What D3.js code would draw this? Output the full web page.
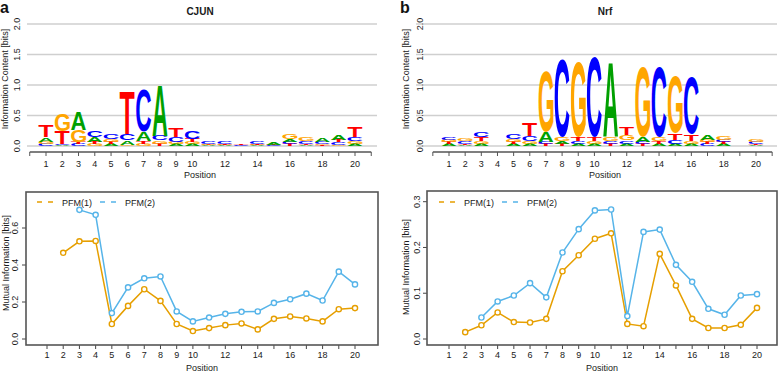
<!DOCTYPE html>
<html>
<head>
<meta charset="utf-8">
<script src="https://cdn.jsdelivr.net/npm/d3@7/dist/d3.min.js"></script>
<style>
  html, body { margin: 0; padding: 0; background: #fff; }
  svg { display: block; font-family: "Liberation Sans", Arial, sans-serif; }
</style>
</head>
<body>
<svg id="chart" width="779" height="372"></svg>
<script>
// Positions and axis labels
const positions = [1,2,3,4,5,6,7,8,9,10,11,12,13,14,15,16,17,18,19,20]
const axisTicks = [0,1,2,3,4,5,6,7,8,9,10,11,12,13,14,15,16,17,18,19,20,21]
const tickLabels = [1,2,3,4,5,6,7,8,9,10,12,14,16,18,20]
const bitTicks = [0, 0.5, 1.0, 1.5, 2.0]

// CJUN logo (bits per base)
const cjunA = [0.07,0.02,0.30,0.08,0.03,0.07,0.15,0.82,0.03,0.03,0.01,0.01,0.00,0.01,0.03,0.05,0.02,0.06,0.09,0.03]
const cjunC = [0.03,0.02,0.03,0.11,0.09,0.10,0.69,0.08,0.08,0.13,0.04,0.04,0.01,0.04,0.01,0.04,0.04,0.03,0.04,0.07]
const cjunG = [0.04,0.28,0.19,0.03,0.05,0.02,0.03,0.05,0.04,0.03,0.02,0.01,0.00,0.01,0.00,0.08,0.06,0.02,0.02,0.05]
const cjunT = [0.19,0.21,0.04,0.04,0.04,0.71,0.05,0.04,0.14,0.06,0.01,0.02,0.02,0.02,0.01,0.03,0.02,0.01,0.04,0.17]

// Nrf logo (bits per base)
const nrfA = [0.03,0.02,0.03,0.001,0.03,0.03,0.16,0.05,0.04,0.03,1.21,0.04,0.08,0.03,0.04,0.04,0.08,0.03,0.003,0.02]
const nrfC = [0.05,0.04,0.09,0.002,0.08,0.08,0.04,1.27,0.04,1.32,0.05,0.05,0.04,1.15,0.06,0.92,0.03,0.04,0.003,0.03]
const nrfG = [0.04,0.04,0.05,0.001,0.05,0.05,0.99,0.06,1.24,0.05,0.07,0.09,1.15,0.07,0.93,0.05,0.04,0.06,0.002,0.04]
const nrfT = [0.03,0.02,0.06,0.001,0.04,0.22,0.03,0.03,0.06,0.06,0.03,0.12,0.03,0.05,0.11,0.11,0.03,0.03,0.002,0.02]

// Mutual information per position
const cjunMI1 = [null,0.466,0.528,0.530,0.081,0.179,0.269,0.206,0.081,0.043,0.059,0.075,0.084,0.052,0.109,0.122,0.111,0.095,0.161,0.167]
const cjunMI2 = [null,null,0.698,0.671,0.140,0.279,0.328,0.338,0.149,0.095,0.116,0.136,0.147,0.149,0.195,0.215,0.245,0.208,0.364,0.295]
const nrfMI1 = [null,0.015,0.030,0.058,0.037,0.036,0.044,0.148,0.183,0.219,0.231,0.033,0.028,0.186,0.117,0.044,0.024,0.024,0.031,0.068]
const nrfMI2 = [null,null,0.047,0.082,0.095,0.122,0.091,0.189,0.240,0.281,0.283,0.050,0.234,0.239,0.162,0.125,0.066,0.053,0.095,0.098]
const cjunMITicks = [0.0, 0.2, 0.4, 0.6]
const nrfMITicks = [0.0, 0.1, 0.2, 0.3]

const BASE_COLORS = { A: "#00a000", C: "#0000ff", G: "#ffa500", T: "#ff0000" }
const PFM_COLORS = ["#e69f00", "#56b4e9"]
const LETTER_FONT = "bold 100px 'Liberation Sans', Arial, sans-serif"
const TEXT = "#1a1a1a"

const svg = d3.select("#chart")

// glyph ink box measured once with canvas
const ctx = document.createElement("canvas").getContext("2d")
ctx.font = LETTER_FONT
const glyphBox = {}
;["A","C","G","T"].forEach(ch => {
  const m = ctx.measureText(ch)
  glyphBox[ch] = {
    left: m.actualBoundingBoxLeft, right: m.actualBoundingBoxRight,
    ascent: m.actualBoundingBoxAscent, descent: m.actualBoundingBoxDescent
  }
})

function drawLetter(g, ch, x0, x1, yTop, yBot) {
  const b = glyphBox[ch]
  const sx = (x1 - x0) / (b.left + b.right)
  const sy = (yBot - yTop) / (b.ascent + b.descent)
  g.append("text")
    .attr("transform", `translate(${x0 + b.left * sx},${yBot - b.descent * sy}) scale(${sx},${sy})`)
    .attr("fill", BASE_COLORS[ch])
    .style("font", LETTER_FONT)
    .text(ch)
}

function logoPanel(opt) {
  const g = svg.append("g")
  const x = d3.scaleLinear().domain([1, 20]).range(opt.xRange)
  const y = d3.scaleLinear().domain([0, 2]).range([146, 24])
  const colW = x(2) - x(1)

  // grid
  g.selectAll("line.grid").data(bitTicks).join("line")
    .attr("x1", opt.gridX[0]).attr("x2", opt.gridX[1])
    .attr("y1", d => y(d)).attr("y2", d => y(d))
    .attr("stroke", "#cfcfcf").attr("stroke-width", 1.6)

  // y tick labels (rotated)
  bitTicks.forEach(v => {
    g.append("text")
      .attr("transform", `translate(${opt.yTickX},${y(v)}) rotate(-90)`)
      .attr("text-anchor", "middle").attr("font-size", 9).attr("fill", TEXT)
      .text(v.toFixed(1))
  })
  g.append("text")
    .attr("transform", `translate(${opt.yTitleX},${y(1) - 6}) rotate(-90)`)
    .attr("text-anchor", "middle").attr("font-size", 9).attr("fill", TEXT)
    .text("Information Content [bits]")

  // letters, smallest at the bottom
  const lg = g.append("g")
  positions.forEach((p, i) => {
    const stack = ["A","C","G","T"].map(ch => ({ ch, h: opt.data[ch][i] }))
      .sort((a, b) => a.h - b.h)
    let acc = 0
    const xa = x(p) - colW * 0.46, xb = x(p) + colW * 0.46
    stack.forEach(s => {
      const yb = y(acc), yt = y(acc + s.h)
      acc += s.h
      if (yb - yt < 0.25) return
      drawLetter(lg, s.ch, xa, xb, yt, yb)
    })
  })

  // x axis
  const ax = g.append("g").attr("transform", "translate(0,152)")
  ax.append("line").attr("x1", x(0)).attr("x2", x(21))
    .attr("stroke", "#555").attr("stroke-width", 1.4)
  ax.selectAll("line.tk").data(axisTicks).join("line")
    .attr("x1", d => x(d)).attr("x2", d => x(d)).attr("y1", 0).attr("y2", 4)
    .attr("stroke", "#555").attr("stroke-width", 1)
  ax.selectAll("text").data(tickLabels).join("text")
    .attr("x", d => x(d)).attr("y", 15)
    .attr("text-anchor", "middle").attr("font-size", 9).attr("fill", TEXT)
    .text(d => d)
  g.append("text").attr("x", opt.titleX).attr("y", 178)
    .attr("text-anchor", "middle").attr("font-size", 9).attr("fill", TEXT)
    .text("Position")

  // title and panel letter
  g.append("text").attr("x", opt.titleX).attr("y", 15)
    .attr("text-anchor", "middle").attr("font-size", 10).attr("font-weight", "bold")
    .attr("fill", TEXT).text(opt.title)
  g.append("text").attr("x", opt.tagX).attr("y", 13)
    .attr("font-size", 16).attr("font-weight", "bold").attr("fill", "#111")
    .text(opt.tag)
}

function miPanel(opt) {
  const g = svg.append("g")
  const x = d3.scaleLinear().domain([1, 20]).range(opt.xRange)
  const y = d3.scaleLinear().domain([0, opt.yMax]).range([339, opt.yMaxPx])
  const [bx0, bx1, by0, by1] = opt.box

  // y ticks
  opt.yTicks.forEach(v => {
    g.append("line").attr("x1", bx0 - 4).attr("x2", bx0).attr("y1", y(v)).attr("y2", y(v))
      .attr("stroke", "#444").attr("stroke-width", 1)
    g.append("text")
      .attr("transform", `translate(${opt.yTickX},${y(v)}) rotate(-90)`)
      .attr("text-anchor", "middle").attr("font-size", 9).attr("fill", TEXT)
      .text(v.toFixed(1))
  })
  g.append("text")
    .attr("transform", `translate(${opt.yTitleX},${opt.yTitleY}) rotate(-90)`)
    .attr("text-anchor", "middle").attr("font-size", 9).attr("fill", TEXT)
    .text("Mutual Information [bits]")

  // x ticks
  g.selectAll("line.xt").data(positions).join("line")
    .attr("x1", d => x(d)).attr("x2", d => x(d)).attr("y1", by1).attr("y2", by1 + 4)
    .attr("stroke", "#444").attr("stroke-width", 1)
  g.selectAll("text.xl").data(tickLabels).join("text")
    .attr("x", d => x(d)).attr("y", 358)
    .attr("text-anchor", "middle").attr("font-size", 9).attr("fill", TEXT)
    .text(d => d)
  g.append("text").attr("x", (bx0 + bx1) / 2).attr("y", 371)
    .attr("text-anchor", "middle").attr("font-size", 9).attr("fill", TEXT)
    .text("Position")

  // series
  const line = d3.line().defined(d => d.v != null).x(d => x(d.p)).y(d => y(d.v))
  opt.series.forEach((vals, k) => {
    const pts = positions.map((p, i) => ({ p, v: vals[i] }))
    g.append("path").datum(pts).attr("d", line)
      .attr("fill", "none").attr("stroke", PFM_COLORS[k]).attr("stroke-width", 1.5)
    g.selectAll(null).data(pts.filter(d => d.v != null)).join("circle")
      .attr("cx", d => x(d.p)).attr("cy", d => y(d.v)).attr("r", 2.6)
      .attr("fill", "#fff").attr("stroke", PFM_COLORS[k]).attr("stroke-width", 1.4)
  })

  // box
  g.append("rect").attr("x", bx0).attr("y", by0).attr("width", bx1 - bx0).attr("height", by1 - by0)
    .attr("fill", "none").attr("stroke", "#555").attr("stroke-width", 1.6)

  // legend
  ;["PFM(1)", "PFM(2)"].forEach((name, k) => {
    const lx = opt.legendX[k]
    g.append("line").attr("x1", lx).attr("x2", lx + 16).attr("y1", 202).attr("y2", 202)
      .attr("stroke", PFM_COLORS[k]).attr("stroke-width", 1.5).attr("stroke-dasharray", "5,6")
    g.append("text").attr("x", lx + 25).attr("y", 205.5)
      .attr("font-size", 9).attr("fill", TEXT).text(name)
  })
}

logoPanel({
  data: { A: cjunA, C: cjunC, G: cjunG, T: cjunT },
  xRange: [46, 355], gridX: [27, 377], yTickX: 20, yTitleX: 8,
  titleX: 200, title: "CJUN", tagX: 0, tag: "a"
})
logoPanel({
  data: { A: nrfA, C: nrfC, G: nrfG, T: nrfT },
  xRange: [449, 756], gridX: [416, 777], yTickX: 423, yTitleX: 409,
  titleX: 605, title: "Nrf", tagX: 400, tag: "b"
})

miPanel({
  series: [cjunMI1, cjunMI2], yMax: 0.6, yMaxPx: 228, yTicks: cjunMITicks,
  xRange: [47, 355], box: [26, 378, 192, 345],
  yTickX: 18, yTitleX: 8.5, yTitleY: 263, legendX: [37, 100]
})
miPanel({
  series: [nrfMI1, nrfMI2], yMax: 0.3, yMaxPx: 201.7, yTicks: nrfMITicks,
  xRange: [449, 757], box: [427, 777, 191, 345],
  yTickX: 420, yTitleX: 409, yTitleY: 267, legendX: [439, 502]
})
</script>
</body>
</html>
